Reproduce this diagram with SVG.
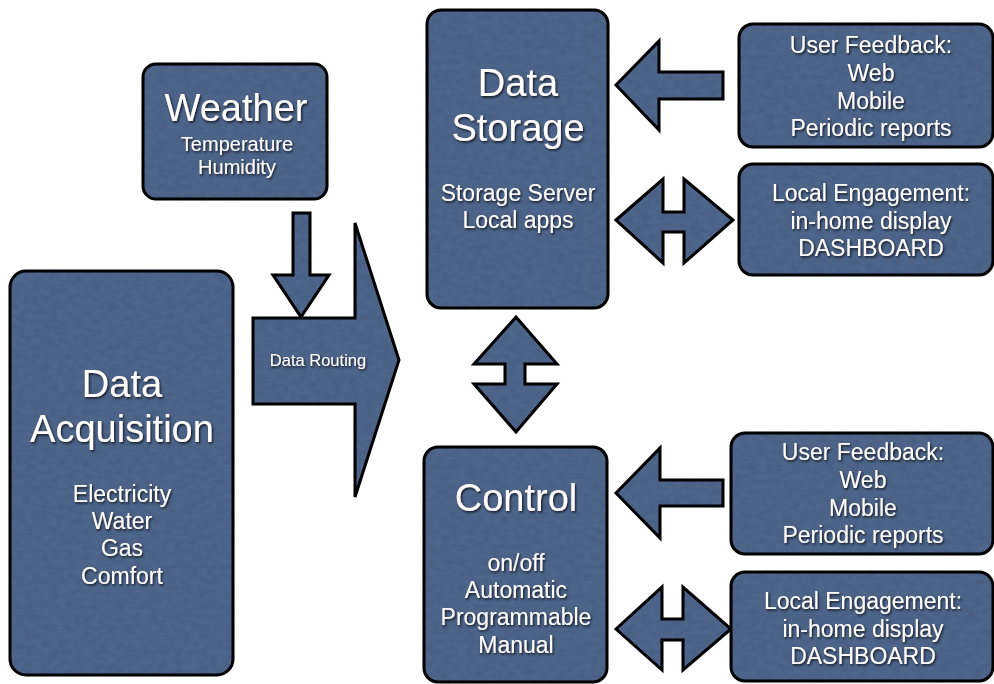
<svg xmlns="http://www.w3.org/2000/svg" width="994" height="684" viewBox="0 0 994 684">
  <defs>
    <!-- fine mottling laid over the slate-blue fills (darkens only, so black outlines stay black) -->
    <filter id="grain" x="-2%" y="-2%" width="104%" height="104%">
      <feTurbulence type="fractalNoise" baseFrequency="0.12 0.2" numOctaves="3" seed="7" result="noise"/>
      <feColorMatrix in="noise" type="matrix" values="0 0 0 0 0  0 0 0 0 0  0 0 0 0 0.02  0.28 0 0 0 -0.09" result="shade"/>
      <feComposite in="shade" in2="SourceGraphic" operator="in" result="shadeIn"/>
      <feMerge>
        <feMergeNode in="SourceGraphic"/>
        <feMergeNode in="shadeIn"/>
      </feMerge>
    </filter>
    <filter id="emboss" x="-10%" y="-20%" width="120%" height="150%">
      <feDropShadow dx="1.2" dy="1.6" stdDeviation="0.8" flood-color="#000" flood-opacity="0.75"/>
    </filter>
  </defs>
  <style>
    .box { fill: #50668b; stroke: #000; stroke-width: 3; }
    .arrow { fill: #50668b; stroke: #000; stroke-width: 3; stroke-linejoin: miter; }
    text { font-family: "Liberation Sans", Arial, sans-serif; fill: #ffffff; text-anchor: middle; filter: url(#emboss); }
    .title { font-size: 38px; }
    .body { font-size: 23px; }
    .small { font-size: 20px; }
    .label { font-size: 16.5px; }
  </style>

  <rect width="994" height="684" fill="#ffffff"/>

  <!-- block-arrow connectors -->
  <g id="connectors" filter="url(#grain)">
    <path class="arrow" d="M293,213 L310,213 L310,275 L329,275 L301,317 L273,275 L293,275 Z"/>
    <path class="arrow" d="M516,317 L557,364 L525,364 L525,384 L557,384 L516,432 L474,384 L505,384 L505,364 L474,364 Z"/>
    <path class="arrow" d="M616,85 L659,41 L659,72 L723,72 L723,99 L659,99 L659,130 Z"/>
    <path class="arrow" d="M616,220 L663,179 L663,212 L684,212 L684,179 L733,220 L684,263 L684,232 L663,232 L663,263 Z"/>
    <path class="arrow" d="M616,493 L660,448 L660,480 L723,480 L723,506 L660,506 L660,538 Z"/>
    <path class="arrow" d="M616,629 L662,587 L662,619 L683,619 L683,587 L731,629 L683,670 L683,640 L662,640 L662,670 Z"/>
  </g>

  <g id="data-routing">
    <path class="arrow" filter="url(#grain)" d="M253,318 L355,318 L355,223 L399,360 L355,497 L355,404 L253,404 Z"/>
    <text class="label" x="318" y="366">Data Routing</text>
  </g>

  <g id="weather">
    <rect class="box" filter="url(#grain)" x="143" y="64" width="184" height="135" rx="13"/>
    <text class="title" x="236" y="121">Weather</text>
    <text class="small" x="237" y="151">Temperature</text>
    <text class="small" x="237" y="174">Humidity</text>
  </g>

  <g id="data-acquisition">
    <rect class="box" filter="url(#grain)" x="10" y="271" width="223" height="404" rx="16"/>
    <text class="title" x="122" y="397">Data</text>
    <text class="title" x="122" y="442">Acquisition</text>
    <text class="body" x="122" y="502">Electricity</text>
    <text class="body" x="122" y="529">Water</text>
    <text class="body" x="122" y="556">Gas</text>
    <text class="body" x="122" y="584">Comfort</text>
  </g>

  <g id="data-storage">
    <rect class="box" filter="url(#grain)" x="427" y="10" width="181" height="298" rx="14"/>
    <text class="title" x="518" y="96">Data</text>
    <text class="title" x="518" y="141">Storage</text>
    <text class="body" x="518" y="201">Storage Server</text>
    <text class="body" x="518" y="228">Local apps</text>
  </g>

  <g id="control">
    <rect class="box" filter="url(#grain)" x="424" y="447" width="183" height="235" rx="14"/>
    <text class="title" x="516" y="511">Control</text>
    <text class="body" x="516" y="571">on/off</text>
    <text class="body" x="516" y="598">Automatic</text>
    <text class="body" x="516" y="625">Programmable</text>
    <text class="body" x="516" y="653">Manual</text>
  </g>

  <g id="user-feedback-storage">
    <rect class="box" filter="url(#grain)" x="739" y="24" width="254" height="123" rx="14"/>
    <text class="body" x="871" y="53">User Feedback:</text>
    <text class="body" x="871" y="81">Web</text>
    <text class="body" x="871" y="109">Mobile</text>
    <text class="body" x="871" y="136">Periodic reports</text>
  </g>

  <g id="local-engagement-storage">
    <rect class="box" filter="url(#grain)" x="739" y="164" width="254" height="111" rx="14"/>
    <text class="body" x="871" y="201">Local Engagement:</text>
    <text class="body" x="871" y="229">in-home display</text>
    <text class="body" x="871" y="256">DASHBOARD</text>
  </g>

  <g id="user-feedback-control">
    <rect class="box" filter="url(#grain)" x="731" y="433" width="262" height="121" rx="14"/>
    <text class="body" x="863" y="460">User Feedback:</text>
    <text class="body" x="863" y="488">Web</text>
    <text class="body" x="863" y="516">Mobile</text>
    <text class="body" x="863" y="543">Periodic reports</text>
  </g>

  <g id="local-engagement-control">
    <rect class="box" filter="url(#grain)" x="731" y="572" width="262" height="109" rx="14"/>
    <text class="body" x="863" y="609">Local Engagement:</text>
    <text class="body" x="863" y="637">in-home display</text>
    <text class="body" x="863" y="664">DASHBOARD</text>
  </g>
</svg>
